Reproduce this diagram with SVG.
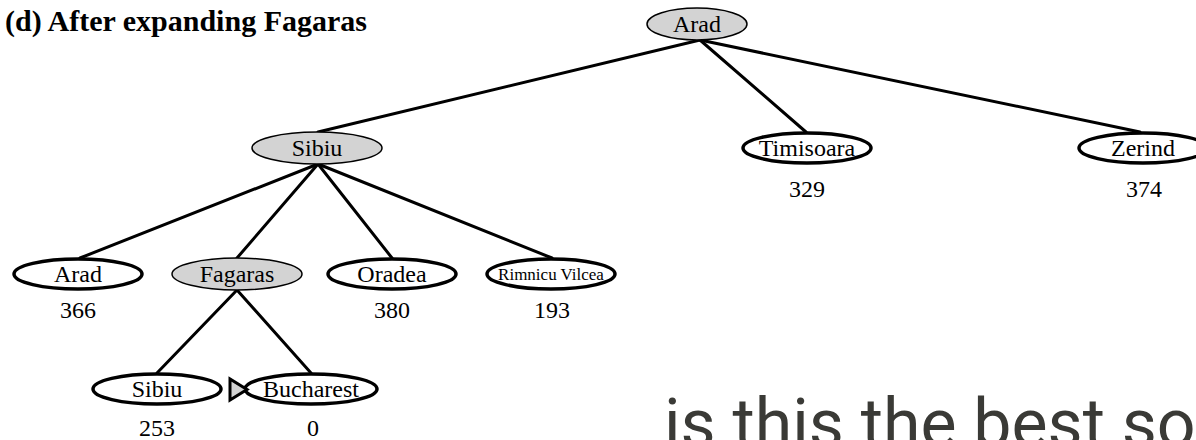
<svg xmlns="http://www.w3.org/2000/svg" width="1196" height="440" viewBox="0 0 1196 440">
<style>
.e{stroke:#000;stroke-width:3;stroke-linecap:round}
.w{fill:#fff;stroke:#000;stroke-width:3.5}
.g{fill:#d3d3d3;stroke:#000;stroke-width:1.5}
.t{font-family:"Liberation Serif","Times New Roman",serif;font-size:24px;fill:#000;text-anchor:middle}
.title{font-family:"Liberation Serif","Times New Roman",serif;font-size:30px;font-weight:bold;fill:#000}
.big{font-family:Roboto,"Noto Sans",sans-serif;font-size:68px;fill:#3a3a36}
</style>
<rect width="1196" height="440" fill="#fff"/>
<text class="title" x="5" y="31">(d) After expanding Fagaras</text>
<g id="edges">
<line class="e" x1="700" y1="40" x2="318" y2="132"/>
<line class="e" x1="700" y1="40" x2="806" y2="132"/>
<line class="e" x1="700" y1="40" x2="1140" y2="132"/>
<line class="e" x1="318" y1="164" x2="80" y2="258"/>
<line class="e" x1="318" y1="164" x2="237" y2="258"/>
<line class="e" x1="318" y1="164" x2="392" y2="258"/>
<line class="e" x1="318" y1="164" x2="552" y2="258"/>
<line class="e" x1="237" y1="290" x2="157" y2="373"/>
<line class="e" x1="237" y1="290" x2="311" y2="373"/>
</g>
<g id="n-arad-root"><ellipse class="g" cx="697" cy="24" rx="50" ry="16"/><text class="t" x="697" y="32">Arad</text></g>
<g id="n-sibiu"><ellipse class="g" cx="317" cy="148" rx="65" ry="16"/><text class="t" x="317" y="156">Sibiu</text></g>
<g id="n-timisoara"><ellipse class="w" cx="807" cy="148" rx="64" ry="15"/><text class="t" x="807" y="156">Timisoara</text><text class="t" x="807" y="197">329</text></g>
<g id="n-zerind"><ellipse class="w" cx="1143" cy="148" rx="64" ry="15"/><text class="t" x="1143" y="156">Zerind</text><text class="t" x="1144" y="197">374</text></g>
<g id="n-arad"><ellipse class="w" cx="78" cy="274" rx="64" ry="15"/><text class="t" x="78" y="282">Arad</text><text class="t" x="78" y="318">366</text></g>
<g id="n-fagaras"><ellipse class="g" cx="237" cy="274" rx="65" ry="16"/><text class="t" x="237" y="282">Fagaras</text></g>
<g id="n-oradea"><ellipse class="w" cx="392" cy="274" rx="64" ry="15"/><text class="t" x="392" y="282">Oradea</text><text class="t" x="392" y="318">380</text></g>
<g id="n-rimnicu"><ellipse class="w" cx="551" cy="274" rx="64" ry="15"/><text class="t" x="551" y="280" style="font-size:17px">Rimnicu Vilcea</text><text class="t" x="552" y="318">193</text></g>
<g id="n-sibiu2"><ellipse class="w" cx="157" cy="389" rx="64" ry="15"/><text class="t" x="157" y="397">Sibiu</text><text class="t" x="157" y="436">253</text></g>
<g id="n-bucharest"><ellipse class="w" cx="311" cy="389" rx="66" ry="15"/><text class="t" x="311" y="397">Bucharest</text><text class="t" x="313" y="436">0</text></g>
<polygon points="230,379 230,400 247,389.5" fill="#d3d3d3" stroke="#000" stroke-width="3" stroke-linejoin="miter"/>
<text class="big" x="664" y="447">is this the best so</text>
</svg>
